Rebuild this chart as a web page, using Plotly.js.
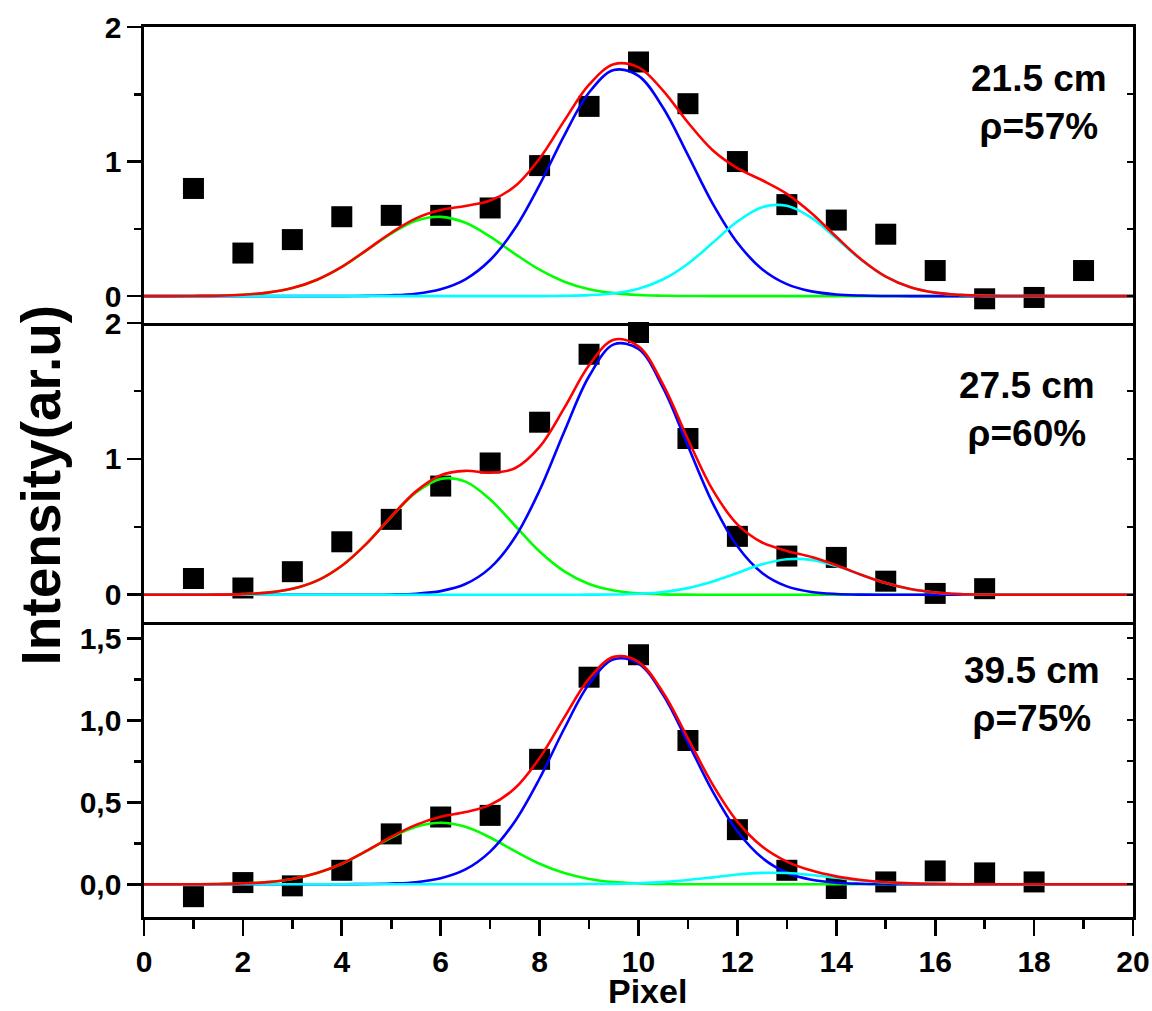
<!DOCTYPE html>
<html>
<head>
<meta charset="utf-8">
<script src="https://cdn.plot.ly/plotly-3.0.1.min.js"></script>
<style>html,body{margin:0;padding:0;background:#fff;}#chart{width:1152px;height:1011px;}</style>
</head>
<body>
<div id="chart"></div>
<script>
// ---- measured data points (Pixel vs Intensity) ----
const pixel215 = [1,2,3,4,5,6,7,8,9,10,11,12,13,14,15,16,17,18,19];
const int215   = [0.80,0.32,0.42,0.59,0.60,0.60,0.655,0.97,1.41,1.74,1.43,1.00,0.68,0.565,0.46,0.19,-0.02,-0.01,0.19];
const pixel275 = [1,2,3,4,5,6,7,8,9,10,11,12,13,14,15,16,17];
const int275   = [0.12,0.05,0.17,0.39,0.555,0.80,0.97,1.27,1.77,1.93,1.15,0.43,0.285,0.275,0.10,0.01,0.045];
const pixel395 = [1,2,3,4,5,6,7,8,9,10,11,12,13,14,15,16,17,18];
const int395   = [-0.076,0.01,-0.01,0.085,0.307,0.41,0.42,0.762,1.263,1.40,0.877,0.333,0.085,-0.026,0.014,0.081,0.069,0.014];

const fitX = [0,0.5,1,1.5,2,2.5,3,3.5,4,4.5,5,5.5,6,6.5,7,7.5,8,8.5,9,9.5,10,10.5,11,11.5,12,12.5,13,13.5,14,14.5,15,15.5,16,16.5,17,17.5,18,18.5,19,19.5,20];

const fit215Green = [0,0,0.001,0.003,0.010,0.026,0.060,0.122,0.217,0.340,0.465,0.560,0.589,0.545,0.442,0.314,0.196,0.107,0.051,0.022,0.008,0.003,0.001,0,0,0,0,0,0,0,0,0,0,0,0,0,0,0,0,0,0];
const fit215Blue  = [0,0,0,0,0,0,0,0,0,0.002,0.006,0.018,0.051,0.125,0.268,0.502,0.827,1.195,1.513,1.680,1.637,1.398,1.048,0.688,0.397,0.200,0.089,0.035,0.012,0.004,0.001,0,0,0,0,0,0,0,0,0,0];
const fit215Cyan  = [0,0,0,0,0,0,0,0,0,0,0,0,0,0,0,0,0,0.002,0.007,0.021,0.055,0.125,0.241,0.396,0.554,0.661,0.671,0.581,0.429,0.270,0.144,0.066,0.026,0.009,0.002,0.001,0,0,0,0,0];
const fit215Sum   = [0,0,0.001,0.003,0.010,0.026,0.060,0.122,0.217,0.342,0.471,0.578,0.640,0.670,0.710,0.816,1.023,1.304,1.571,1.723,1.700,1.526,1.290,1.084,0.951,0.861,0.760,0.616,0.441,0.274,0.145,0.066,0.026,0.009,0.002,0.001,0,0,0,0,0];

const fit275Green = [0,0,0,0.001,0.005,0.016,0.044,0.104,0.214,0.377,0.574,0.753,0.853,0.833,0.701,0.510,0.319,0.173,0.080,0.032,0.011,0.003,0.001,0,0,0,0,0,0,0,0,0,0,0,0,0,0,0,0,0,0];
const fit275Blue  = [0,0,0,0,0,0,0,0,0,0,0.002,0.008,0.027,0.079,0.198,0.421,0.769,1.202,1.608,1.843,1.809,1.521,1.095,0.675,0.357,0.161,0.062,0.021,0.006,0.001,0,0,0,0,0,0,0,0,0,0,0];
const fit275Cyan  = [0,0,0,0,0,0,0,0,0,0,0,0,0,0,0,0,0,0,0.001,0.002,0.008,0.021,0.049,0.097,0.161,0.224,0.261,0.257,0.212,0.147,0.086,0.042,0.017,0.006,0.002,0,0,0,0,0,0];
const fit275Sum   = [0,0,0,0.001,0.005,0.016,0.044,0.104,0.214,0.377,0.576,0.761,0.880,0.912,0.899,0.931,1.088,1.375,1.689,1.877,1.828,1.545,1.145,0.772,0.518,0.385,0.323,0.278,0.218,0.148,0.086,0.042,0.017,0.006,0.002,0,0,0,0,0,0];

const fit395Green = [0,0,0,0.001,0.005,0.013,0.032,0.068,0.125,0.202,0.285,0.350,0.375,0.350,0.285,0.202,0.125,0.068,0.032,0.013,0.005,0.001,0,0,0,0,0,0,0,0,0,0,0,0,0,0,0,0,0,0,0];
const fit395Blue  = [0,0,0,0,0,0,0,0,0,0.001,0.004,0.012,0.036,0.090,0.199,0.383,0.645,0.950,1.221,1.372,1.346,1.154,0.864,0.566,0.323,0.161,0.070,0.027,0.009,0.003,0.001,0,0,0,0,0,0,0,0,0,0];
const fit395Cyan  = [0,0,0,0,0,0,0,0,0,0,0,0,0,0,0,0,0,0,0.001,0.002,0.006,0.013,0.026,0.042,0.059,0.069,0.068,0.056,0.039,0.023,0.011,0.005,0.002,0,0,0,0,0,0,0,0];
const fit395Sum   = [0,0,0,0.001,0.005,0.013,0.032,0.068,0.125,0.203,0.289,0.362,0.411,0.440,0.484,0.585,0.770,1.018,1.254,1.387,1.357,1.168,0.890,0.608,0.382,0.230,0.138,0.083,0.048,0.026,0.012,0.005,0.002,0,0,0,0,0,0,0,0];

// ---- labels ----
const panelLabels = ["21.5 cm<br>ρ=57%", "27.5 cm<br>ρ=60%", "39.5 cm<br>ρ=75%"];
const xTickVals = [0,2,4,6,8,10,12,14,16,18,20];
const yTickVals12 = [0,1,2];
const yTickText12 = ["0","1","2"];
const yTickVals3 = [0,0.5,1,1.5];
const yTickText3 = ["0,0","0,5","1,0","1,5"];
const xTitle = "Pixel";
const yTitle = "Intensity(ar.u)";

const FONT = "Liberation Sans, Arial, Helvetica, sans-serif";
const C_GREEN = "#00ff00", C_BLUE = "#0000ff", C_CYAN = "#00ffff", C_RED = "#ff0000";
const LW = 2.6;

function panel(xa, ya, px, py, g, b, c, s) {
  const mk = {type:"scatter", mode:"markers", x:px, y:py, xaxis:xa, yaxis:ya, cliponaxis:false,
    marker:{symbol:"square", size:21, color:"#000", line:{width:0}}, hoverinfo:"skip"};
  const ln = (yy, col) => ({type:"scatter", mode:"lines", x:fitX, y:yy, xaxis:xa, yaxis:ya,
    line:{color:col, width:LW, shape:"spline", smoothing:1}, hoverinfo:"skip"});
  return [mk, ln(g, C_GREEN), ln(b, C_BLUE), ln(c, C_CYAN), ln(s, C_RED)];
}

const traces = [].concat(
  panel("x2","y", pixel215, int215, fit215Green, fit215Blue, fit215Cyan, fit215Sum),
  panel("x3","y2", pixel275, int275, fit275Green, fit275Blue, fit275Cyan, fit275Sum),
  panel("x","y3", pixel395, int395, fit395Green, fit395Blue, fit395Cyan, fit395Sum),
  [
    {type:"scatter", x:[], y:[], xaxis:"x2", yaxis:"y4", hoverinfo:"skip"},
    {type:"scatter", x:[], y:[], xaxis:"x3", yaxis:"y5", hoverinfo:"skip"},
    {type:"scatter", x:[], y:[], xaxis:"x", yaxis:"y6", hoverinfo:"skip"}
  ]
);

const tickFont = {family:FONT, size:30, color:"#000", weight:"bold"};
const lineCommon = {showline:true, linecolor:"#000", linewidth:LW, showgrid:false, zeroline:false};

function yMain(domain, range, tv, tt, minorDt) {
  return Object.assign({}, lineCommon, {
    domain:domain, range:range, mirror:true, ticks:"outside", ticklen:14, tickwidth:LW, tickcolor:"#000",
    tickmode:"array", tickvals:tv, ticktext:tt, tickfont:tickFont, ticklabelstandoff:0,
    minor:{ticks:"outside", ticklen:7, tickwidth:LW, tickcolor:"#000", tick0:0, dtick:minorDt, showgrid:false}
  });
}
function yRight(over, anchor, range, dt) {
  return {overlaying:over, anchor:anchor, side:"right", range:range, showline:false, showgrid:false, zeroline:false,
    ticks:"inside", ticklen:6, tickwidth:2, tickcolor:"#000", tick0:0, dtick:dt, showticklabels:false};
}

const d3 = [0, 0.3315], d2 = [0.3315, 0.6674], d1 = [0.6674, 1];

const layout = {
  width:1152, height:1011,
  margin:{l:144, r:19, t:27, b:94, pad:0},
  paper_bgcolor:"#fff", plot_bgcolor:"#fff",
  showlegend:false,
  font:{family:FONT, color:"#000"},
  xaxis: Object.assign({}, lineCommon, {anchor:"y3", range:[0,20], mirror:false, ticks:"outside", ticklen:16, tickwidth:LW, tickcolor:"#000",
    tickmode:"array", tickvals:xTickVals, tickfont:tickFont, ticklabelstandoff:0,
    minor:{ticks:"outside", ticklen:9, tickwidth:LW, tickcolor:"#000", tick0:0, dtick:1, showgrid:false}}),
  xaxis2: Object.assign({}, lineCommon, {anchor:"y", matches:"x", range:[0,20], mirror:true, ticks:"", showticklabels:false}),
  xaxis3: Object.assign({}, lineCommon, {anchor:"y2", matches:"x", range:[0,20], mirror:false, ticks:"", showticklabels:false}),
  yaxis:  Object.assign(yMain(d1, [-0.2, 2], yTickVals12, yTickText12, 0.5), {anchor:"x2"}),
  yaxis2: Object.assign(yMain(d2, [-0.2, 2], yTickVals12, yTickText12, 0.5), {anchor:"x3"}),
  yaxis3: Object.assign(yMain(d3, [-0.2, 1.6], yTickVals3, yTickText3, 0.25), {anchor:"x"}),
  yaxis4: yRight("y", "x2", [-0.2, 2], 0.5),
  yaxis5: yRight("y2", "x3", [-0.2, 2], 0.5),
  yaxis6: yRight("y3", "x", [-0.2, 1.6], 0.25),
  annotations:[
    {xref:"x2", yref:"y", x:18.1, y:1.44, text:panelLabels[0], showarrow:false, xanchor:"center", yanchor:"middle",
      font:{family:FONT, size:37, color:"#000", weight:"bold"}},
    {xref:"x3", yref:"y2", x:17.85, y:1.36, text:panelLabels[1], showarrow:false, xanchor:"center", yanchor:"middle",
      font:{family:FONT, size:37, color:"#000", weight:"bold"}},
    {xref:"x", yref:"y3", x:17.95, y:1.156, text:panelLabels[2], showarrow:false, xanchor:"center", yanchor:"middle",
      font:{family:FONT, size:37, color:"#000", weight:"bold"}},
    {xref:"paper", yref:"paper", x:0.5086, y:-0.083, text:xTitle, showarrow:false, xanchor:"center", yanchor:"middle",
      font:{family:FONT, size:34, color:"#000", weight:"bold"}},
    {xref:"paper", yref:"paper", x:-0.104, y:0.485, text:yTitle, showarrow:false, textangle:-90, xanchor:"center", yanchor:"middle",
      font:{family:FONT, size:55, color:"#000", weight:"bold"}}
  ]
};

Plotly.newPlot("chart", traces, layout, {staticPlot:true, displayModeBar:false});
</script>
</body>
</html>
